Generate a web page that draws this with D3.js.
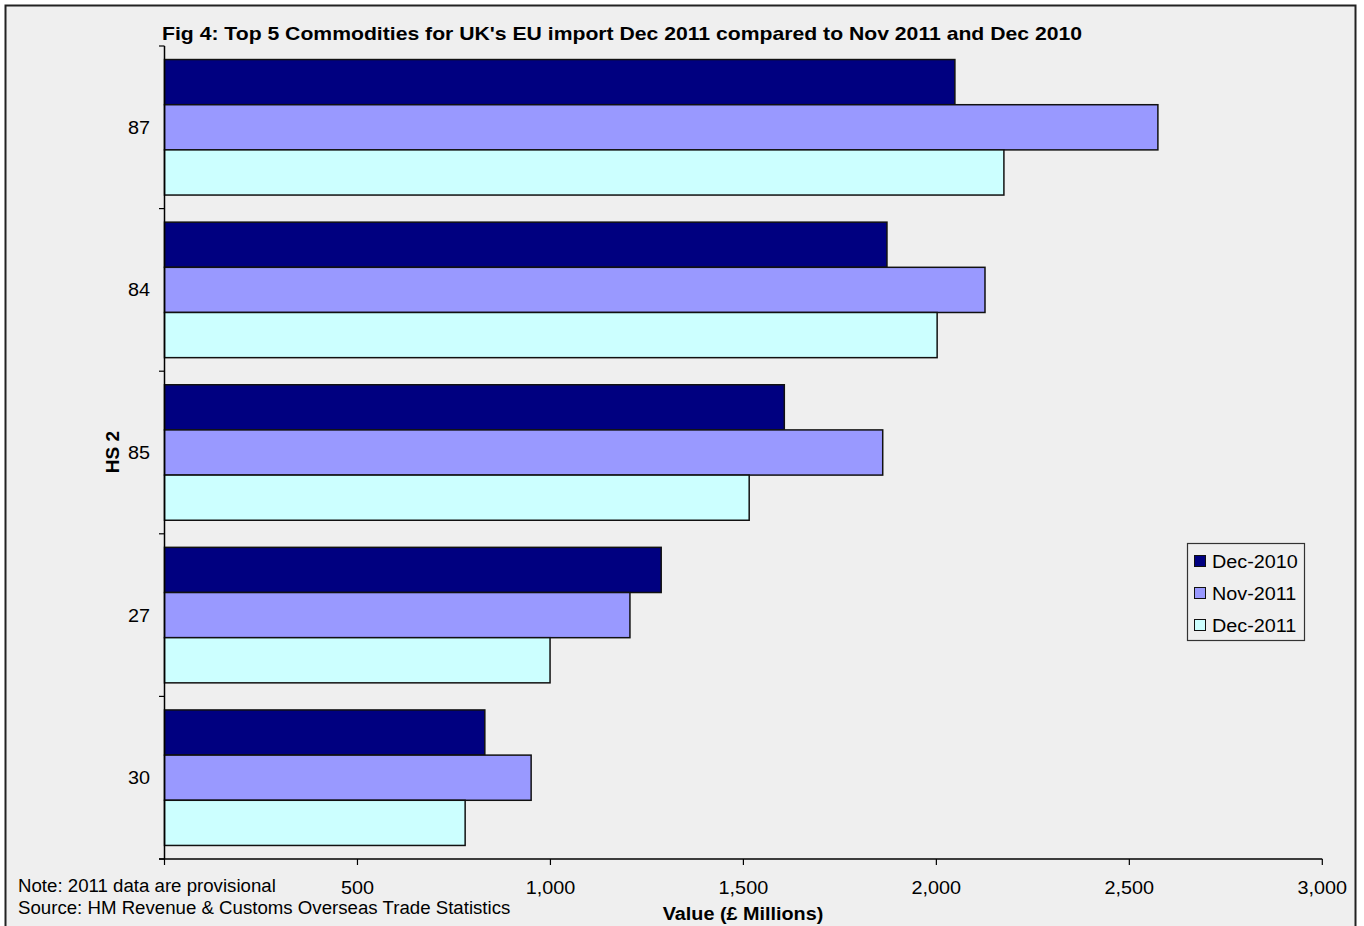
<!DOCTYPE html>
<html><head><meta charset="utf-8">
<script src="https://cdn.jsdelivr.net/npm/d3@7/dist/d3.min.js"></script>
<style>body{margin:0;background:#fff}svg{display:block}text{font-family:"Liberation Sans",Arial,sans-serif}</style>
</head><body><svg id="c" width="1364" height="926"></svg>
<script>
const categories = ["87","84","85","27","30"];
const seriesNames = ["Dec-2010","Nov-2011","Dec-2011"];
const dec2010 = [2048, 1872, 1606, 1287, 830];
const nov2011 = [2574, 2126, 1861, 1206, 950];
const dec2011 = [2175, 2002, 1515, 999, 779];
const xTicks = [0, 500, 1000, 1500, 2000, 2500, 3000];
const colors = ["#000080", "#9999ff", "#ccffff"];
const series = [dec2010, nov2011, dec2011];

const svg = d3.select("#c");
svg.append("rect").attr("x",0).attr("y",0).attr("width",1364).attr("height",926).attr("fill","#fff");
svg.append("rect").attr("x",5.5).attr("y",5.5).attr("width",1350).attr("height",930)
  .attr("fill","#efefef").attr("stroke","#222").attr("stroke-width",2);

const x = d3.scaleLinear().domain([0,3000]).range([164.5,1322.3]);
const y = d3.scaleBand().domain(categories).range([46,859]).paddingInner(0).paddingOuter(0);
const inner = d3.scaleBand().domain(seriesNames).range([0, y.bandwidth()]).paddingInner(0).paddingOuter(0.3);

const g = svg.append("g");
series.forEach((vals, si) => {
  g.selectAll(null).data(categories).enter().append("rect")
    .attr("x", x(0))
    .attr("y", (d,i) => y(d) + inner(seriesNames[si]))
    .attr("width", (d,i) => x(vals[i]) - x(0))
    .attr("height", inner.bandwidth())
    .attr("fill", colors[si])
    .attr("stroke", "#111").attr("stroke-width", 1.5);
});

// y axis
const yAxisG = svg.append("g");
yAxisG.append("line").attr("x1",164.5).attr("x2",164.5).attr("y1",46).attr("y2",859).attr("stroke","#000").attr("stroke-width",1.5);
const yTicks = categories.map(c => y(c)).concat([859]);
yAxisG.selectAll(null).data(yTicks).enter().append("line")
  .attr("x1",159).attr("x2",164.5).attr("y1",d=>d).attr("y2",d=>d).attr("stroke","#000").attr("stroke-width",1.2);
yAxisG.selectAll(null).data(categories).enter().append("text")
  .attr("x",150).attr("y",d=>y(d)+y.bandwidth()/2+6.5).attr("text-anchor","end")
  .attr("font-size",18).attr("fill","#000").attr("class","st").text(d=>d);

// x axis
const xAxisG = svg.append("g");
xAxisG.append("line").attr("x1",159).attr("x2",1322.3).attr("y1",859).attr("y2",859).attr("stroke","#000").attr("stroke-width",1.5);
xAxisG.selectAll(null).data(xTicks).enter().append("line")
  .attr("x1",d=>x(d)).attr("x2",d=>x(d)).attr("y1",859).attr("y2",865).attr("stroke","#000").attr("stroke-width",1.2);
const fmt = d3.format(",");
xAxisG.selectAll(null).data(xTicks.filter(d=>d>0)).enter().append("text")
  .attr("x",d=>x(d)).attr("y",894).attr("text-anchor","middle")
  .attr("font-size",18).attr("fill","#000").attr("class","st").text(d=>fmt(d));

// titles
svg.append("text").attr("x",162).attr("y",40).attr("font-size",18.5).attr("font-weight","bold")
  .attr("textLength",920).attr("lengthAdjust","spacingAndGlyphs")
  .text("Fig 4: Top 5 Commodities for UK's EU import Dec 2011 compared to Nov 2011 and Dec 2010");
svg.append("text").attr("x",743).attr("y",920).attr("text-anchor","middle").attr("font-size",18).attr("font-weight","bold")
  .attr("class","st").text("Value (£ Millions)");
svg.append("text").attr("transform","translate(119,452) rotate(-90)").attr("text-anchor","middle")
  .attr("font-size",19).attr("font-weight","bold").text("HS 2");

// notes
svg.append("text").attr("x",18).attr("y",892).attr("font-size",17.6).attr("class","sn").text("Note: 2011 data are provisional");
svg.append("text").attr("x",18).attr("y",914).attr("font-size",17.6).attr("class","sn").text("Source: HM Revenue & Customs Overseas Trade Statistics");

// legend
const lg = svg.append("g");
lg.append("rect").attr("x",1187.5).attr("y",543.5).attr("width",117).attr("height",97)
  .attr("fill","#efefef").attr("stroke","#333").attr("stroke-width",1.2);
seriesNames.forEach((n,i) => {
  const cy = 561 + i*32;
  lg.append("rect").attr("x",1194.5).attr("y",cy-5.5).attr("width",11).attr("height",11)
    .attr("fill",colors[i]).attr("stroke","#111").attr("stroke-width",1);
  lg.append("text").attr("x",1212).attr("y",cy+6.5).attr("font-size",18).attr("class","st").text(n);
});

// horizontal stretch to mimic the reference's wider glyphs
function stretch(sel, f){
  sel.each(function(){
    const L = this.getComputedTextLength();
    d3.select(this).attr("textLength", L*f).attr("lengthAdjust","spacingAndGlyphs");
  });
}
stretch(svg.selectAll("text.st"), 1.1);
stretch(svg.selectAll("text.sn"), 1.06);
</script></body></html>
